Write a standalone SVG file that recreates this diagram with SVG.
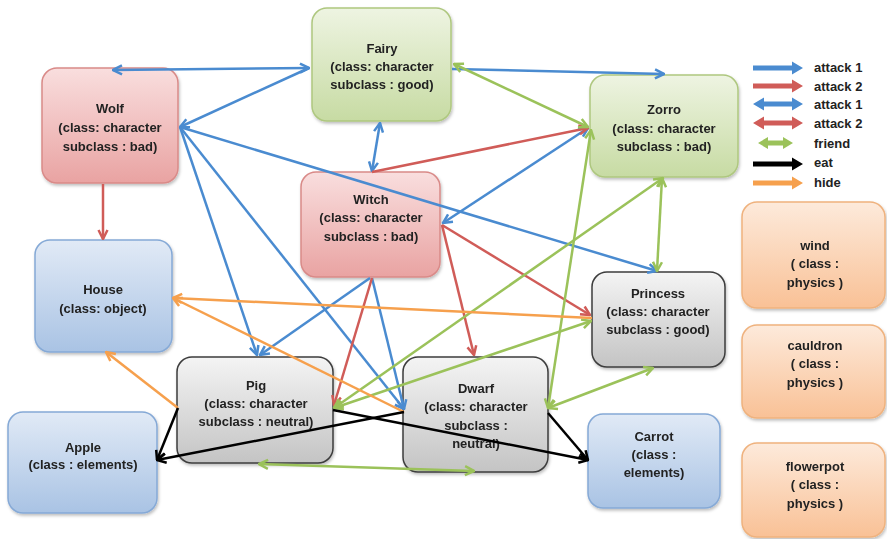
<svg xmlns="http://www.w3.org/2000/svg" width="887" height="539" viewBox="0 0 887 539">
<style>
.t{font-family:"Liberation Sans",Arial,sans-serif;font-weight:bold;font-size:13px;fill:#222;text-anchor:middle}
.lg{font-family:"Liberation Sans",Arial,sans-serif;font-weight:bold;font-size:13px;fill:#222}
.c{fill:none;stroke-width:2.5}
.b{stroke:#4a8bd0}.r{stroke:#d05c58}.g{stroke:#9bc25a}.o{stroke:#f6a04d}.k{stroke:#000}
.nr{fill:url(#gr);stroke:#d98a88;stroke-width:1.5}
.ng{fill:url(#gg);stroke:#aec77f;stroke-width:1.5}
.nb{fill:url(#gb);stroke:#85a9d6;stroke-width:1.5}
.nk{fill:url(#gk);stroke:#3c3c3c;stroke-width:1.5}
.no{fill:url(#go);stroke:#efb27e;stroke-width:1.5}
.box{filter:url(#sh)}
</style>
<defs>
<filter id="sh" x="-10%" y="-10%" width="130%" height="130%"><feDropShadow dx="1" dy="2" stdDeviation="1.5" flood-color="#000" flood-opacity="0.25"/></filter>
<linearGradient id="gr" x1="0" y1="0" x2="0" y2="1"><stop offset="0" stop-color="#f9dede"/><stop offset="1" stop-color="#e9a3a2"/></linearGradient>
<linearGradient id="gg" x1="0" y1="0" x2="0" y2="1"><stop offset="0" stop-color="#eef4e2"/><stop offset="1" stop-color="#c7dba3"/></linearGradient>
<linearGradient id="gb" x1="0" y1="0" x2="0" y2="1"><stop offset="0" stop-color="#e1eaf6"/><stop offset="1" stop-color="#a9c3e4"/></linearGradient>
<linearGradient id="gk" x1="0" y1="0" x2="0" y2="1"><stop offset="0" stop-color="#f4f4f4"/><stop offset="1" stop-color="#c4c4c4"/></linearGradient>
<linearGradient id="go" x1="0" y1="0" x2="0" y2="1"><stop offset="0" stop-color="#fdeadb"/><stop offset="1" stop-color="#f9c196"/></linearGradient>
<marker id="mb" viewBox="0 0 12 12" refX="11" refY="6" markerWidth="12" markerHeight="12" markerUnits="userSpaceOnUse" orient="auto-start-reverse"><path d="M2,1.5 L11,6 L2,10.5" fill="none" stroke="#4a8bd0" stroke-width="2.5"/></marker>
<marker id="mr" viewBox="0 0 12 12" refX="11" refY="6" markerWidth="12" markerHeight="12" markerUnits="userSpaceOnUse" orient="auto-start-reverse"><path d="M2,1.5 L11,6 L2,10.5" fill="none" stroke="#d05c58" stroke-width="2.5"/></marker>
<marker id="mg" viewBox="0 0 12 12" refX="11" refY="6" markerWidth="12" markerHeight="12" markerUnits="userSpaceOnUse" orient="auto-start-reverse"><path d="M2,1.5 L11,6 L2,10.5" fill="none" stroke="#9bc25a" stroke-width="2.5"/></marker>
<marker id="mo" viewBox="0 0 12 12" refX="11" refY="6" markerWidth="12" markerHeight="12" markerUnits="userSpaceOnUse" orient="auto-start-reverse"><path d="M2,1.5 L11,6 L2,10.5" fill="none" stroke="#f6a04d" stroke-width="2.5"/></marker>
<marker id="mk" viewBox="0 0 12 12" refX="11" refY="6" markerWidth="12" markerHeight="12" markerUnits="userSpaceOnUse" orient="auto-start-reverse"><path d="M2,1.5 L11,6 L2,10.5" fill="none" stroke="#000" stroke-width="2.5"/></marker>
</defs>
<rect width="887" height="539" fill="#fff"/>

<g id="fairy" class="box"><rect class="ng" x="312" y="8" width="139" height="113" rx="15"/><text class="t" x="382" y="53">Fairy</text><text class="t" x="382" y="71">(class: character</text><text class="t" x="382" y="89">subclass : good)</text></g>
<g id="wolf" class="box"><rect class="nr" x="42" y="68" width="136" height="115" rx="15"/><text class="t" x="110" y="113">Wolf</text><text class="t" x="110" y="132">(class: character</text><text class="t" x="110" y="151">subclass : bad)</text></g>
<g id="witch" class="box"><rect class="nr" x="301" y="172" width="139" height="105" rx="15"/><text class="t" x="371" y="204">Witch</text><text class="t" x="371" y="222">(class: character</text><text class="t" x="371" y="241">subclass : bad)</text></g>
<g id="zorro" class="box"><rect class="ng" x="590" y="75" width="148" height="102" rx="15"/><text class="t" x="664" y="114">Zorro</text><text class="t" x="664" y="133">(class: character</text><text class="t" x="664" y="151">subclass : bad)</text></g>
<g id="house" class="box"><rect class="nb" x="35" y="240" width="137" height="112" rx="15"/><text class="t" x="103" y="294">House</text><text class="t" x="103" y="313">(class: object)</text></g>
<g id="pig" class="box"><rect class="nk" x="177" y="357" width="156" height="106" rx="15"/><text class="t" x="256" y="390">Pig</text><text class="t" x="256" y="408">(class: character</text><text class="t" x="256" y="426">subclass : neutral)</text></g>
<g id="apple" class="box"><rect class="nb" x="8" y="412" width="149" height="101" rx="15"/><text class="t" x="83" y="452">Apple</text><text class="t" x="83" y="469">(class : elements)</text></g>
<g id="dwarf" class="box"><rect class="nk" x="403" y="357" width="145" height="115" rx="15"/><text class="t" x="476" y="393">Dwarf</text><text class="t" x="476" y="411">(class: character</text><text class="t" x="476" y="430">subclass :</text><text class="t" x="476" y="448">neutral)</text></g>
<g id="princess" class="box"><rect class="nk" x="592" y="272" width="133" height="95" rx="15"/><text class="t" x="658" y="298">Princess</text><text class="t" x="658" y="316">(class: character</text><text class="t" x="658" y="334">subclass : good)</text></g>
<g id="carrot" class="box"><rect class="nb" x="588" y="414" width="132" height="94" rx="15"/><text class="t" x="654" y="441">Carrot</text><text class="t" x="654" y="459">(class :</text><text class="t" x="654" y="477">elements)</text></g>
<g id="wind" class="box"><rect class="no" x="742" y="202" width="143" height="106" rx="15"/><text class="t" x="815" y="250">wind</text><text class="t" x="815" y="268">( class :</text><text class="t" x="815" y="287">physics )</text></g>
<g id="cauldron" class="box"><rect class="no" x="742" y="325" width="143" height="93" rx="15"/><text class="t" x="815" y="350">cauldron</text><text class="t" x="815" y="368">( class :</text><text class="t" x="815" y="387">physics )</text></g>
<g id="flowerpot" class="box"><rect class="no" x="742" y="443" width="143" height="94" rx="15"/><text class="t" x="815" y="471">flowerpot</text><text class="t" x="815" y="489">( class :</text><text class="t" x="815" y="508">physics )</text></g>

<g id="connectors">
<path class="c b" d="M113,70 L309,68" marker-start="url(#mb)" marker-end="url(#mb)"/>
<path class="c b" d="M309,68 L180,127" marker-end="url(#mb)"/>
<path class="c b" d="M180,127 L657,271" marker-end="url(#mb)"/>
<path class="c b" d="M180,127 L257,355" marker-end="url(#mb)"/>
<path class="c b" d="M180,127 L404,409" marker-end="url(#mb)"/>
<path class="c b" d="M380,123 L372,171" marker-start="url(#mb)" marker-end="url(#mb)"/>
<path class="c b" d="M443,223 L588,128" marker-start="url(#mb)" marker-end="url(#mb)"/>
<path class="c b" d="M370,278 L260,355" marker-end="url(#mb)"/>
<path class="c b" d="M372,278 L404,409" marker-end="url(#mb)"/>
<path class="c b" d="M452,69 L664,74" marker-end="url(#mb)"/>
<path class="c r" d="M103,184 L103,239" marker-end="url(#mr)"/>
<path class="c r" d="M372,172 L588,128" marker-end="url(#mr)"/>
<path class="c r" d="M372,278 L334,405" marker-end="url(#mr)"/>
<path class="c r" d="M442,225 L474,355" marker-end="url(#mr)"/>
<path class="c r" d="M442,225 L590,315" marker-end="url(#mr)"/>
<path class="c g" d="M454,64 L588,127" marker-start="url(#mg)" marker-end="url(#mg)"/>
<path class="c g" d="M334,408 L663,178" marker-start="url(#mg)" marker-end="url(#mg)"/>
<path class="c g" d="M334,408 L591,321" marker-start="url(#mg)" marker-end="url(#mg)"/>
<path class="c g" d="M662,178 L657,271" marker-start="url(#mg)" marker-end="url(#mg)"/>
<path class="c g" d="M591,130 L548,408" marker-start="url(#mg)" marker-end="url(#mg)"/>
<path class="c g" d="M653,368 L548,408" marker-start="url(#mg)" marker-end="url(#mg)"/>
<path class="c g" d="M259,464 L474,471" marker-start="url(#mg)" marker-end="url(#mg)"/>
<path class="c o" d="M592,318 L173,298" marker-end="url(#mo)"/>
<path class="c o" d="M404,412 L173,298" marker-end="url(#mo)"/>
<path class="c o" d="M178,408 L106,352" marker-end="url(#mo)"/>
<path class="c k" d="M178,408 L157,460" marker-end="url(#mk)"/>
<path class="c k" d="M404,412 L157,460" marker-end="url(#mk)"/>
<path class="c k" d="M333,410 L588,460" marker-end="url(#mk)"/>
<path class="c k" d="M548,413 L588,460" marker-end="url(#mk)"/>
</g>

<g id="legend">
<polygon fill="#4a8bd0" points="753,65.5 792,65.5 792,61.5 803,68 792,74.5 792,70.5 753,70.5"/>
<polygon fill="#d05c58" points="753,83.5 792,83.5 792,79.5 803,86 792,92.5 792,88.5 753,88.5"/>
<polygon fill="#4a8bd0" points="753,104 764,97.5 764,101.5 792,101.5 792,97.5 803,104 792,110.5 792,106.5 764,106.5 764,110.5"/>
<polygon fill="#d05c58" points="753,123 764,116.5 764,120.5 792,120.5 792,116.5 803,123 792,129.5 792,125.5 764,125.5 764,129.5"/>
<polygon fill="#9bc25a" points="758,143 768,137 768,140.5 783,140.5 783,137 793,143 783,149 783,145.5 768,145.5 768,149"/>
<polygon fill="#000" points="753,161.5 792,161.5 792,157.5 803,164 792,170.5 792,166.5 753,166.5"/>
<polygon fill="#f6a04d" points="753,180.5 792,180.5 792,176.5 803,183 792,189.5 792,185.5 753,185.5"/>
<text class="lg" x="814" y="72">attack 1</text>
<text class="lg" x="814" y="91">attack 2</text>
<text class="lg" x="814" y="109">attack 1</text>
<text class="lg" x="814" y="128">attack 2</text>
<text class="lg" x="814" y="148">friend</text>
<text class="lg" x="814" y="167">eat</text>
<text class="lg" x="814" y="187">hide</text>
</g>
</svg>
